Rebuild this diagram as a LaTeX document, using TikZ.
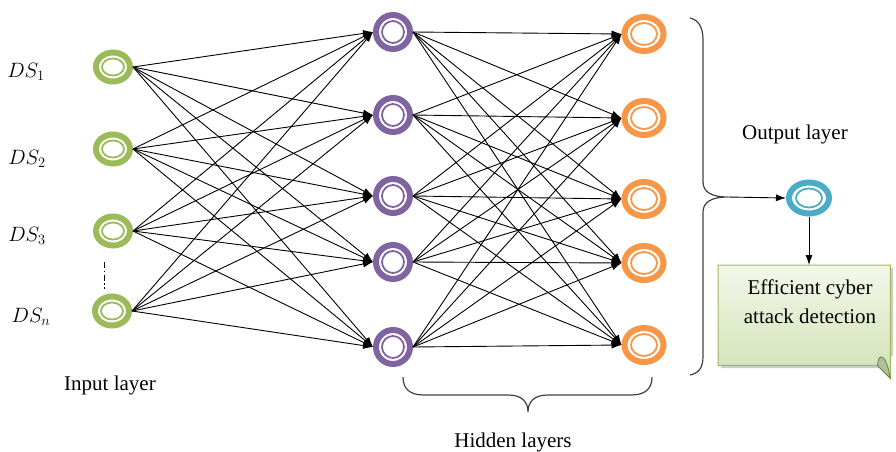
\documentclass[tikz,border=0pt]{standalone}
\usepackage{fontspec}
\setmainfont{Liberation Serif}
\usetikzlibrary{shapes.geometric,arrows.meta,backgrounds}
\definecolor{cgreen}{HTML}{9BBB59}
\definecolor{cpurple}{HTML}{8064A2}
\definecolor{corange}{HTML}{F79646}
\definecolor{cblue}{HTML}{4BACC6}
\definecolor{boxtop}{HTML}{F3F7EA}
\definecolor{boxbot}{HTML}{D2E1B4}
\definecolor{boxline}{HTML}{9BBB59}
\tikzset{
  ringnode/.style n args={4}{ellipse, draw=#1, line width=6pt, minimum width=#2, minimum height=#3, inner sep=0pt,
    path picture={\draw[#1, line width=1.8pt] (path picture bounding box.center) ellipse (#4);}},
  edge/.style={draw=black, line width=0.9pt, -{Latex[length=10pt,width=7pt]}},
  lbl/.style={font=\fontsize{21}{25}\selectfont},
  dslbl/.style={font=\fontsize{22}{25}\selectfont},
  bracestyle/.style={draw=black!75, line width=1.2pt},
}
\begin{document}
\begin{tikzpicture}[x=1pt,y=-1pt]
\useasboundingbox (0,0) rectangle (896,452);
% input layer
\node[ringnode={cgreen}{34pt}{29pt}{11pt and 8.5pt}] (g1) at (113,67) {};
\node[ringnode={cgreen}{34pt}{29pt}{11pt and 8.5pt}] (g2) at (113,149) {};
\node[ringnode={cgreen}{34pt}{29pt}{11pt and 8.5pt}] (g3) at (113,231) {};
\node[ringnode={cgreen}{34pt}{29pt}{11pt and 8.5pt}] (g4) at (112,311) {};
% hidden layer 1
\node[ringnode={cpurple}{34pt}{34pt}{11pt and 11pt}] (p1) at (393,32) {};
\node[ringnode={cpurple}{34pt}{34pt}{11pt and 11pt}] (p2) at (393,115) {};
\node[ringnode={cpurple}{34pt}{34pt}{11pt and 11pt}] (p3) at (393,196) {};
\node[ringnode={cpurple}{34pt}{34pt}{11pt and 11pt}] (p4) at (393,262) {};
\node[ringnode={cpurple}{34pt}{34pt}{11pt and 11pt}] (p5) at (393,347) {};
% hidden layer 2
\node[ringnode={corange}{39pt}{34pt}{13pt and 11pt}] (o1) at (644,34) {};
\node[ringnode={corange}{39pt}{34pt}{13pt and 11pt}] (o2) at (644,118) {};
\node[ringnode={corange}{39pt}{34pt}{13pt and 11pt}] (o3) at (644,199) {};
\node[ringnode={corange}{39pt}{34pt}{13pt and 11pt}] (o4) at (644,263) {};
\node[ringnode={corange}{39pt}{34pt}{13pt and 11pt}] (o5) at (644,345) {};
% output node
\node[ringnode={cblue}{40pt}{31pt}{13pt and 9.5pt}] (out) at (809,198) {};
% edges
\foreach \i in {1,...,4}{\foreach \j in {1,...,5}{\draw[edge] (g\i.east) -- (p\j.west);}}
\foreach \i in {1,...,5}{\foreach \j in {1,...,5}{\draw[edge] (p\i.east) -- (o\j.west);}}
% DS labels
\node[dslbl] (ds1) at (26,72) {$DS_1$};
\node[dslbl] (ds2) at (27,159) {$DS_2$};
\node[dslbl] (ds3) at (27,236) {$DS_3$};
\node[dslbl] (dsn) at (31,317) {$DS_n$};
% dash-dot
\draw[line width=1pt, dash pattern=on 6pt off 2.5pt on 1.5pt off 2.5pt] (104,262) -- (104,289);
% labels
\node[lbl] (inl) at (110,385) {Input layer};
\node[lbl] (hidl) at (513,442) {Hidden layers};
\node[lbl] (outl) at (795,134) {Output layer};
% right brace
\draw[bracestyle] (690,18) .. controls (699,20) and (703,28) .. (703,40) -- (703,182)
  .. controls (703,192) and (712,197) .. (727,197)
  .. controls (712,197) and (703,202) .. (703,212) -- (703,356)
  .. controls (703,368) and (699,373) .. (690,375);
\coordinate (btip) at (727,197);
% bottom brace
\draw[bracestyle] (403,377) .. controls (403,389) and (410,395) .. (424,395) -- (508,395)
  .. controls (521,395) and (528,401) .. (528,412)
  .. controls (528,401) and (535,395) .. (548,395) -- (631,395)
  .. controls (645,395) and (652,389) .. (652,377);
% result box
\node[minimum width=172pt, minimum height=100pt, inner sep=0pt, anchor=north west] (box) at (718,265) {};
\begin{scope}[on background layer]
\fill[black!20] (721,268) -- (893,268) -- (893,355) -- (881,368) -- (721,368) -- cycle;
\shade[top color=boxtop, bottom color=boxbot, draw=boxline, line width=1pt]
  (box.north west) -- (box.north east) -- ([yshift=-13pt]box.south east) -- ([xshift=-13pt]box.south east) -- (box.south west) -- cycle;
\fill[boxbot!85!black, draw=boxline!70!black, line width=0.8pt]
  ([yshift=-13pt]box.south east) .. controls (886,354) and (881,356) .. (879,358) -- ([xshift=-13pt]box.south east) -- cycle;
\end{scope}
\node[font=\fontsize{21}{29}\selectfont, align=center] (boxtxt) at (810,302) {Efficient cyber\\attack detection};
% output arrows
\draw[edge] (btip) -- (out.west);
\draw[edge] (out.south) -- (out.south |- box.north);
\end{tikzpicture}
\end{document}
